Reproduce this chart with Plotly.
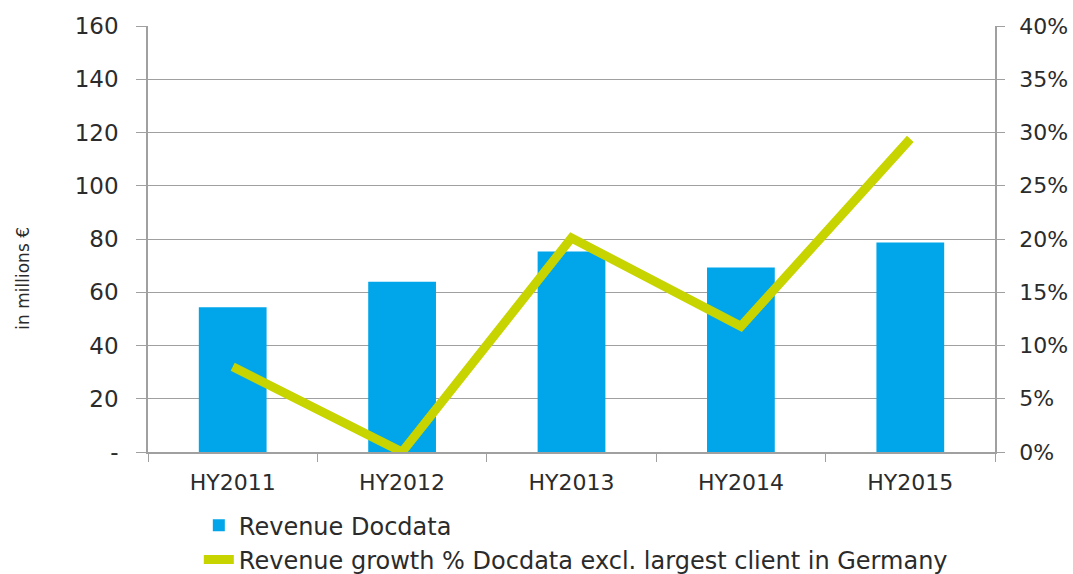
import plotly.graph_objects as go

categories = ["HY2011", "HY2012", "HY2013", "HY2014", "HY2015"]
revenue = [54.4, 63.9, 75.3, 69.3, 78.7]
growth_pct = [8.0, 0.0, 20.1, 11.8, 29.4]

left_ticks = [0, 20, 40, 60, 80, 100, 120, 140, 160]
left_labels = ["-", "20", "40", "60", "80", "100", "120", "140", "160"]
right_ticks = [0, 5, 10, 15, 20, 25, 30, 35, 40]
right_labels = ["0%", "5%", "10%", "15%", "20%", "25%", "30%", "35%", "40%"]

FONT = "'DejaVu Sans', sans-serif"
GRID = "#A0A0A0"
TXT = "#2B2B2B"

fig = go.Figure()
fig.add_trace(go.Bar(
    x=categories, y=revenue, name="Revenue Docdata",
    marker=dict(color="#00A6E9", line=dict(width=0)),
    width=0.4, yaxis="y",
))
fig.add_trace(go.Scatter(
    x=categories, y=growth_pct, name="Revenue growth % Docdata excl. largest client in Germany",
    mode="lines", line=dict(color="#C8D400", width=9), yaxis="y2", cliponaxis=False,
))

fig.update_layout(
    width=1073, height=574,
    margin=dict(l=148, r=78, t=26, b=122, autoexpand=False),
    paper_bgcolor="white", plot_bgcolor="white",
    font=dict(family=FONT, color=TXT, size=20),
    showlegend=True,
    legend=dict(
        x=0.06, y=-0.12, xanchor="left", yanchor="top",
        orientation="v", font=dict(size=24, color=TXT),
        tracegroupgap=0, itemwidth=30, bgcolor="rgba(0,0,0,0)",
    ),
    xaxis=dict(
        type="category", showline=True, linecolor=GRID, linewidth=1.5,
        ticks="outside", tickson="boundaries", ticklen=8, tickcolor=GRID,
        showgrid=False, tickfont=dict(size=22, color=TXT), automargin=False,
        ticklabelstandoff=10,
    ),
    yaxis=dict(
        range=[0, 160], tickvals=left_ticks, ticktext=left_labels,
        showline=True, linecolor=GRID, linewidth=1.5,
        ticks="outside", ticklen=10, tickcolor=GRID,
        showgrid=True, gridcolor=GRID, gridwidth=1.2,
        zeroline=False, tickfont=dict(size=23, color=TXT), automargin=False,
        ticklabelstandoff=13,
    ),
    yaxis2=dict(
        range=[0, 40], tickvals=right_ticks, ticktext=right_labels,
        overlaying="y", side="right",
        showline=True, linecolor=GRID, linewidth=1.5,
        ticks="outside", ticklen=8, tickcolor=GRID,
        showgrid=False, zeroline=False, tickfont=dict(size=22, color=TXT), automargin=False,
        ticklabelstandoff=10,
    ),
    annotations=[dict(
        text="in millions €", xref="paper", yref="paper",
        x=-0.148, y=(452 - 278) / 426, xanchor="center", yanchor="middle",
        textangle=-90, showarrow=False, font=dict(size=17, color=TXT),
    )],
)

fig.write_html("out.html", config={"displayModeBar": False},
               post_script="document.body.style.margin='0';")
